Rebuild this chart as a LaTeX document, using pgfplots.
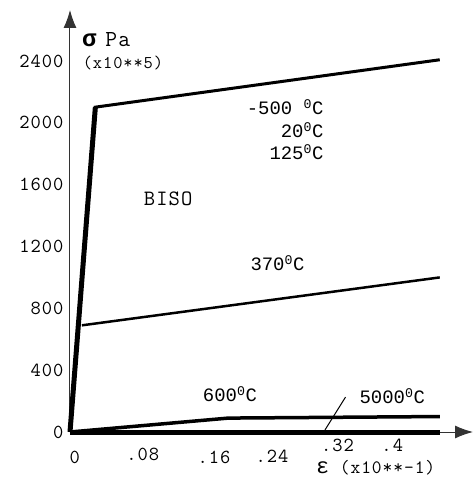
\documentclass[border=0pt]{standalone}
\usepackage{pgfplots}
\pgfplotsset{compat=1.18}
\usepackage{fontspec}
\setmainfont{Liberation Mono}
\newfontfamily\cour{Latin Modern Mono}[LetterSpace=5]
\usetikzlibrary{arrows.meta}
\newcommand{\dg}{\textsuperscript{0}}
\begin{document}
\begin{tikzpicture}[x=1bp,y=1bp]
\begin{axis}[
 at={(0,0)}, anchor=south west,
 scale only axis, width=403bp, height=422bp,
 xmin=0, xmax=0.509, ymin=0, ymax=2730,
 axis lines=left,
 axis line style={line width=1bp, black!80},
 x axis line style={-{Latex[length=18bp,width=13bp]}},
 y axis line style={-{Latex[length=18bp,width=13bp]}},
 xtick=\empty,
 ytick={0,400,...,2400},
 major tick length=0,
 tick label style={font=\cour\fontsize{20}{22}\selectfont},
 /pgf/number format/assume math mode=true,
 /pgf/number format/1000 sep={},
 yticklabel style={xshift=-3bp},
 clip=false,
]
\addplot[line width=5bp] coordinates {(0,0)(0.032,2100)};
\addplot[line width=3bp] coordinates {(0.030,2100)(0.467,2408)};
\addplot[line width=2.5bp] coordinates {(0.015,690)(0.467,1000)};
\addplot[line width=3.5bp] coordinates {(0,0)(0.2,90)(0.467,100)};
\addplot[line width=5bp] coordinates {(0,0)(0.467,0)};
\addplot[line width=1bp] coordinates {(0.322,13)(0.348,226)};
% x tick labels, placed as in the reference
\node[font=\cour\fontsize{20}{22}\selectfont] at (axis cs:0.006,-162) {0};
\node[font=\cour\fontsize{20}{22}\selectfont] at (axis cs:0.092,-142) {.08};
\node[font=\cour\fontsize{20}{22}\selectfont] at (axis cs:0.182,-162) {.16};
\node[font=\cour\fontsize{20}{22}\selectfont] at (axis cs:0.255,-156) {.24};
\node[font=\cour\fontsize{20}{22}\selectfont] at (axis cs:0.338,-84) {.32};
\node[font=\cour\fontsize{20}{22}\selectfont] at (axis cs:0.407,-84) {.4};
\node[font=\cour\fontsize{19}{22}\selectfont] at (axis cs:0.386,-233) {{\fontspec{Liberation Mono}\fontsize{22}{22}\selectfont ε} (x10**-1)};
% annotations
\node[anchor=east,font=\fontsize{19}{20}\selectfont] at (axis cs:0.3245,2103) {-500 \dg C};
\node[anchor=east,font=\fontsize{19}{20}\selectfont] at (axis cs:0.3245,1954) {20\dg C};
\node[anchor=east,font=\fontsize{19}{20}\selectfont] at (axis cs:0.3245,1812) {125\dg C};
\node[font=\cour\fontsize{22}{22}\selectfont] at (axis cs:0.124,1508) {BISO};
\node[font=\fontsize{19}{20}\selectfont] at (axis cs:0.262,1093) {370\dg C};
\node[font=\fontsize{19}{20}\selectfont] at (axis cs:0.202,245) {600\dg C};
\node[font=\fontsize{19}{20}\selectfont] at (axis cs:0.407,232) {5000\dg C};
\node[anchor=west,inner sep=0pt] at (axis cs:0.015,2540) {{\fontsize{24}{24}\selectfont\bfseries σ}\hspace{9bp}{\cour\fontsize{23}{23}\selectfont Pa}};
\node[anchor=west,inner sep=0pt,font=\cour\fontsize{18}{18}\selectfont] at (axis cs:0.016,2390) {(x10**5)};
\end{axis}
\pgfresetboundingbox
\path (-70,-45) rectangle (405,432);
\end{tikzpicture}
\end{document}
